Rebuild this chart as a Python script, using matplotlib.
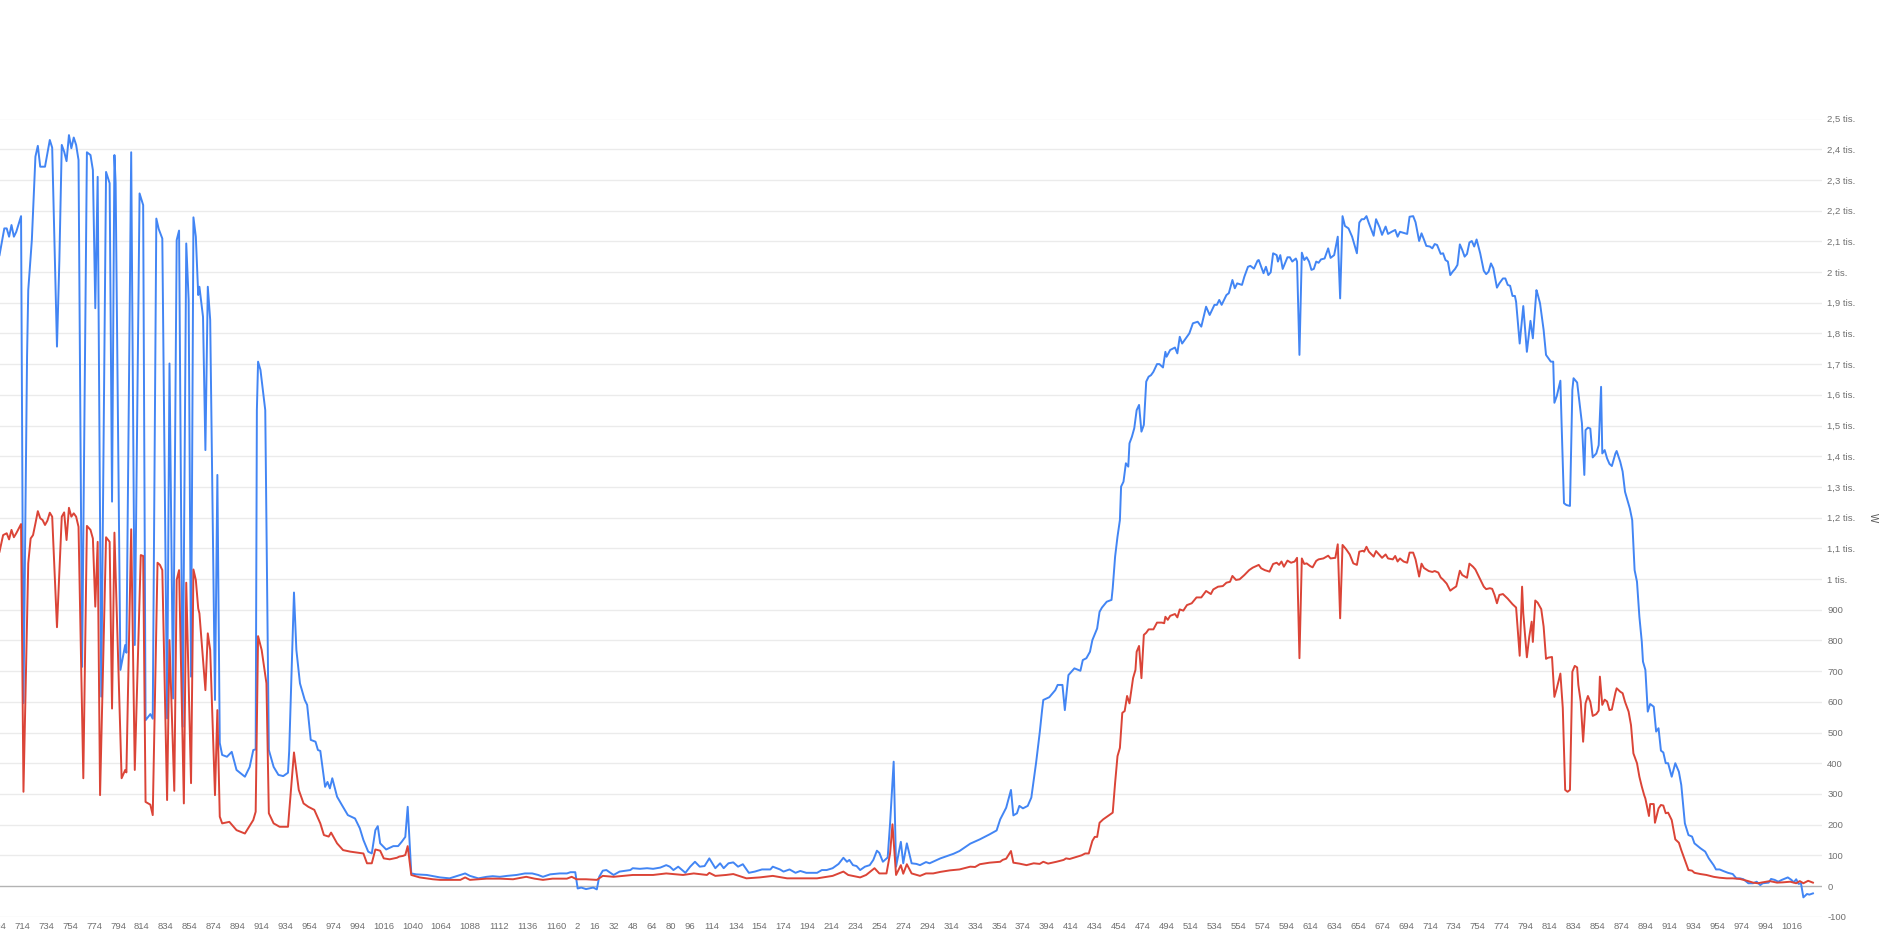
import matplotlib
matplotlib.use('Agg')
import matplotlib.pyplot as plt
from matplotlib.ticker import FixedLocator, FuncFormatter

# (sample, W) vertices; sample counts run on across both days
blue = [
    (0, 2055), (4, 2142), (6, 2142), (8, 2115), (10, 2153), (12, 2115), (14, 2131), (18, 2182), (20, 596),
    (23, 1724), (24, 1941), (27, 2104), (30, 2376), (32, 2411), (34, 2343), (38, 2343), (40, 2386), (42, 2430),
    (44, 2405), (48, 1757), (50, 2039), (52, 2414), (54, 2392), (56, 2361), (58, 2446), (60, 2403), (62, 2438),
    (64, 2414), (66, 2365), (69, 714), (73, 2390), (76, 2381), (78, 2332), (80, 1882), (82, 2310), (85, 617),
    (89, 2326), (92, 2289), (94, 1252), (96, 2381), (97, 2289), (101, 704), (105, 785), (106, 760), (110, 2390),
    (113, 785), (117, 2256), (120, 2218), (122, 540), (126, 560), (128, 545), (131, 2174), (133, 2140),
    (136, 2109), (140, 546), (142, 1702), (145, 611), (148, 2104), (150, 2135), (153, 519), (156, 2093),
    (158, 1909), (160, 682), (162, 2178), (164, 2115), (166, 1925), (167, 1952), (170, 1854), (172, 1420),
    (174, 1952), (176, 1844), (180, 606), (182, 1339), (184, 466), (186, 427), (190, 421), (194, 437),
    (198, 378), (205, 356), (209, 388), (212, 443), (214, 445), (215, 1550), (216, 1708), (218, 1681),
    (222, 1550), (225, 443), (229, 388), (233, 362), (237, 358), (241, 369), (242, 440), (246, 956), (248, 769),
    (251, 660), (255, 606), (257, 590), (260, 476), (264, 470), (266, 443), (268, 440), (272, 323), (274, 339),
    (276, 318), (278, 351), (282, 291), (286, 264), (291, 231), (297, 220), (301, 188), (304, 150), (308, 112),
    (311, 106), (314, 182), (316, 195), (318, 139), (323, 119), (329, 130), (333, 130), (336, 144), (339, 160),
    (341, 258), (344, 41), (348, 38), (357, 36), (368, 28), (376, 25), (389, 41), (393, 33), (400, 25),
    (407, 30), (412, 32), (418, 30), (424, 33), (432, 36), (439, 41), (445, 41), (450, 36), (454, 30), (460, 38),
    (468, 41), (474, 41), (477, 45), (481, 45), (483, -8), (486, -5), (490, -10), (496, -5), (499, -11),
    (501, 30), (504, 50), (507, 52), (513, 36), (518, 47), (527, 52), (529, 58), (535, 56), (541, 58), (546, 56),
    (552, 60), (557, 68), (560, 63), (563, 52), (567, 63), (573, 43), (577, 63), (581, 79), (585, 63), (589, 65),
    (593, 90), (598, 58), (602, 74), (605, 58), (609, 74), (613, 77), (617, 63), (621, 71), (626, 43), (631, 47),
    (637, 54), (644, 54), (646, 63), (652, 54), (655, 47), (660, 54), (665, 43), (669, 49), (674, 43), (683, 43),
    (687, 52), (691, 52), (696, 58), (701, 72), (705, 92), (708, 79), (710, 85), (713, 68), (716, 65), (719, 52),
    (723, 63), (727, 68), (730, 85), (733, 115), (735, 108), (738, 79), (742, 93), (744, 204), (747, 405),
    (749, 63), (753, 144), (755, 74), (758, 139), (762, 74), (766, 72), (769, 68), (774, 78), (777, 74),
    (786, 90), (797, 105), (802, 114), (811, 138), (819, 152), (827, 168), (833, 181), (836, 217), (841, 255),
    (845, 313), (847, 230), (850, 237), (852, 261), (855, 253), (859, 261), (862, 288), (866, 402), (869, 499),
    (871, 573), (872, 606), (877, 615), (882, 638), (884, 655), (888, 655), (890, 573), (893, 687), (898, 709),
    (903, 701), (905, 736), (908, 742), (911, 763), (913, 801), (917, 839), (919, 893), (921, 907), (925, 926),
    (929, 932), (930, 970), (932, 1073), (934, 1138), (936, 1192), (937, 1301), (939, 1317), (941, 1377),
    (943, 1366), (944, 1442), (946, 1463), (948, 1491), (950, 1550), (952, 1567), (954, 1480), (956, 1502),
    (958, 1643), (960, 1659), (962, 1664), (964, 1675), (967, 1700), (969, 1700), (972, 1689), (974, 1740),
    (975, 1724), (978, 1746), (982, 1754), (984, 1735), (986, 1789), (988, 1767), (992, 1789), (994, 1800),
    (997, 1833), (1001, 1838), (1004, 1822), (1008, 1887), (1011, 1860), (1015, 1893), (1017, 1893),
    (1019, 1909), (1021, 1893), (1025, 1925), (1027, 1931), (1030, 1974), (1032, 1947), (1034, 1963),
    (1038, 1958), (1040, 1985), (1043, 2017), (1045, 2020), (1048, 2011), (1051, 2037), (1052, 2039),
    (1056, 1996), (1058, 2017), (1060, 1990), (1062, 1999), (1064, 2061), (1067, 2055), (1068, 2034),
    (1070, 2055), (1072, 2010), (1076, 2048), (1078, 2048), (1080, 2034), (1083, 2044), (1084, 2034),
    (1086, 1730), (1088, 2063), (1090, 2039), (1092, 2048), (1094, 2034), (1096, 2007), (1098, 2010),
    (1100, 2034), (1102, 2030), (1104, 2041), (1107, 2044), (1110, 2077), (1112, 2046), (1115, 2055),
    (1118, 2115), (1120, 1914), (1122, 2182), (1124, 2150), (1127, 2142), (1130, 2115), (1134, 2061),
    (1136, 2161), (1138, 2172), (1140, 2172), (1142, 2182), (1144, 2159), (1148, 2118), (1150, 2172),
    (1153, 2145), (1155, 2121), (1158, 2148), (1160, 2124), (1163, 2131), (1166, 2137), (1168, 2115),
    (1170, 2131), (1176, 2124), (1178, 2180), (1181, 2182), (1183, 2162), (1186, 2101), (1188, 2126),
    (1190, 2106), (1192, 2085), (1195, 2083), (1197, 2077), (1199, 2091), (1201, 2088), (1204, 2059),
    (1206, 2061), (1208, 2039), (1210, 2034), (1212, 1990), (1214, 2001), (1216, 2010), (1218, 2023),
    (1220, 2090), (1222, 2072), (1224, 2050), (1226, 2059), (1228, 2096), (1230, 2101), (1232, 2083),
    (1234, 2106), (1237, 2061), (1240, 2004), (1242, 1993), (1244, 2001), (1246, 2028), (1248, 2012),
    (1251, 1949), (1253, 1963), (1256, 1979), (1258, 1979), (1260, 1958), (1262, 1955), (1264, 1922),
    (1266, 1922), (1267, 1903), (1270, 1767), (1273, 1889), (1276, 1740), (1279, 1841), (1281, 1784),
    (1284, 1941), (1285, 1928), (1287, 1898), (1290, 1811), (1292, 1730), (1294, 1719), (1296, 1708),
    (1298, 1708), (1299, 1574), (1301, 1596), (1304, 1646), (1305, 1507), (1307, 1247), (1309, 1241),
    (1312, 1238), (1314, 1616), (1315, 1654), (1318, 1640), (1320, 1572), (1322, 1507), (1324, 1339),
    (1325, 1485), (1327, 1493), (1329, 1490), (1331, 1396), (1334, 1409), (1336, 1436), (1338, 1626),
    (1339, 1409), (1341, 1420), (1343, 1393), (1345, 1375), (1347, 1368), (1350, 1409), (1351, 1417),
    (1354, 1382), (1356, 1350), (1358, 1284), (1360, 1257), (1362, 1230), (1364, 1192), (1366, 1029),
    (1368, 991), (1370, 877), (1372, 796), (1373, 731), (1375, 704), (1377, 568), (1379, 593), (1382, 584),
    (1384, 503), (1386, 514), (1388, 441), (1390, 435), (1392, 400), (1394, 400), (1397, 356), (1400, 400),
    (1403, 372), (1405, 329), (1408, 204), (1411, 166), (1414, 161), (1416, 139), (1421, 123), (1425, 112),
    (1428, 90), (1432, 68), (1434, 54), (1437, 54), (1440, 49), (1444, 43), (1448, 39), (1451, 25), (1454, 25),
    (1457, 22), (1461, 9), (1465, 9), (1468, 14), (1471, 3), (1473, 9), (1478, 11), (1480, 23), (1483, 20),
    (1486, 14), (1489, 20), (1492, 25), (1494, 28), (1497, 20), (1499, 12), (1501, 22), (1503, 7), (1505, 9),
    (1507, -37), (1510, -26), (1512, -28), (1515, -24),
]

red = [
    (0, 1089), (3, 1143), (6, 1149), (8, 1129), (10, 1160), (12, 1136), (14, 1149), (18, 1179), (20, 307),
    (24, 1051), (26, 1132), (28, 1143), (30, 1181), (32, 1221), (34, 1198), (36, 1192), (38, 1176), (40, 1190),
    (42, 1216), (44, 1203), (48, 843), (52, 1203), (54, 1217), (56, 1127), (58, 1232), (60, 1203), (62, 1214),
    (64, 1203), (66, 1170), (70, 351), (73, 1173), (76, 1160), (78, 1132), (80, 910), (82, 1121), (84, 296),
    (89, 1136), (92, 1121), (94, 578), (96, 1151), (102, 351), (105, 378), (106, 370), (110, 1162), (113, 378),
    (118, 1078), (120, 1075), (122, 274), (126, 265), (128, 231), (132, 1053), (134, 1046), (136, 1029),
    (140, 280), (142, 801), (146, 310), (148, 997), (150, 1029), (154, 269), (156, 988), (160, 335), (162, 1031),
    (164, 997), (166, 904), (167, 888), (172, 638), (174, 823), (176, 769), (180, 296), (182, 573), (184, 226),
    (186, 204), (192, 209), (198, 182), (205, 171), (212, 215), (214, 242), (216, 814), (219, 769), (223, 660),
    (225, 237), (229, 204), (234, 193), (241, 193), (246, 435), (250, 313), (254, 269), (258, 258), (263, 248),
    (268, 204), (271, 166), (275, 161), (277, 174), (282, 139), (287, 117), (293, 112), (304, 106), (307, 74),
    (311, 74), (314, 119), (318, 115), (321, 90), (326, 87), (332, 92), (334, 96), (337, 98), (339, 101),
    (341, 130), (344, 36), (351, 28), (362, 22), (368, 20), (385, 20), (389, 28), (393, 20), (407, 24),
    (418, 24), (429, 22), (440, 30), (447, 24), (454, 20), (462, 24), (474, 24), (478, 30), (482, 22), (490, 22),
    (499, 20), (504, 33), (513, 30), (529, 36), (546, 36), (557, 41), (571, 36), (580, 41), (591, 36), (593, 43),
    (598, 33), (607, 36), (613, 39), (624, 25), (635, 28), (646, 33), (658, 25), (669, 25), (683, 25), (696, 33),
    (705, 47), (709, 36), (719, 28), (724, 36), (731, 58), (735, 41), (741, 41), (744, 106), (746, 201),
    (749, 36), (753, 68), (755, 40), (758, 71), (762, 41), (769, 33), (774, 41), (780, 41), (786, 46), (794, 51),
    (802, 54), (811, 63), (815, 62), (819, 71), (827, 76), (836, 79), (838, 85), (841, 89), (845, 114), (847, 76),
    (852, 73), (858, 68), (864, 74), (869, 72), (872, 79), (876, 73), (883, 79), (889, 85), (891, 90), (894, 88),
    (900, 95), (904, 100), (907, 106), (910, 106), (913, 147), (915, 160), (917, 160), (919, 206), (922, 217),
    (926, 228), (930, 239), (932, 336), (934, 423), (936, 450), (938, 564), (940, 570), (942, 619), (944, 595),
    (947, 677), (949, 704), (950, 763), (952, 782), (954, 677), (956, 818), (958, 825), (960, 836), (964, 836),
    (967, 858), (971, 858), (973, 856), (974, 877), (976, 867), (978, 880), (982, 886), (984, 875), (986, 901),
    (989, 897), (992, 915), (996, 921), (1000, 940), (1004, 940), (1008, 961), (1012, 951), (1014, 966),
    (1018, 975), (1022, 977), (1025, 988), (1028, 991), (1030, 1010), (1033, 997), (1036, 999), (1040, 1013),
    (1044, 1029), (1047, 1037), (1052, 1046), (1054, 1035), (1057, 1029), (1061, 1024), (1064, 1049),
    (1067, 1053), (1069, 1046), (1071, 1057), (1073, 1040), (1076, 1060), (1079, 1053), (1082, 1057),
    (1084, 1069), (1086, 742), (1088, 1067), (1090, 1049), (1092, 1051), (1095, 1042), (1097, 1038),
    (1100, 1059), (1102, 1064), (1106, 1067), (1110, 1076), (1112, 1067), (1116, 1069), (1118, 1113),
    (1120, 872), (1122, 1111), (1125, 1097), (1128, 1080), (1131, 1051), (1134, 1046), (1136, 1089),
    (1139, 1092), (1140, 1089), (1142, 1105), (1144, 1089), (1148, 1073), (1150, 1091), (1153, 1078),
    (1155, 1069), (1158, 1080), (1160, 1067), (1164, 1064), (1166, 1075), (1168, 1057), (1170, 1067),
    (1173, 1057), (1176, 1053), (1178, 1086), (1181, 1086), (1183, 1064), (1186, 1008), (1188, 1050),
    (1190, 1036), (1194, 1026), (1197, 1023), (1199, 1026), (1202, 1021), (1204, 1005), (1206, 998),
    (1209, 985), (1212, 962), (1214, 968), (1217, 976), (1220, 1027), (1222, 1013), (1226, 1004), (1228, 1050),
    (1231, 1040), (1233, 1031), (1236, 1007), (1240, 975), (1242, 967), (1245, 970), (1247, 968), (1249, 948),
    (1251, 921), (1253, 948), (1256, 951), (1260, 936), (1264, 918), (1267, 907), (1270, 750), (1272, 975),
    (1273, 888), (1276, 745), (1278, 812), (1280, 861), (1281, 795), (1283, 930), (1285, 923), (1288, 902),
    (1290, 845), (1292, 740), (1294, 744), (1297, 746), (1299, 616), (1301, 644), (1304, 692), (1306, 580),
    (1308, 313), (1310, 307), (1312, 313), (1314, 698), (1316, 717), (1318, 712), (1319, 655), (1321, 600),
    (1323, 470), (1325, 595), (1327, 619), (1329, 600), (1331, 554), (1334, 560), (1336, 571), (1337, 682),
    (1339, 590), (1341, 607), (1343, 601), (1345, 573), (1347, 575), (1350, 630), (1351, 644), (1354, 633),
    (1356, 628), (1358, 600), (1361, 568), (1363, 524), (1365, 432), (1368, 400), (1370, 356), (1372, 324),
    (1374, 296), (1375, 285), (1378, 228), (1379, 267), (1382, 267), (1383, 206), (1386, 253), (1388, 264),
    (1390, 262), (1392, 237), (1394, 239), (1397, 215), (1400, 152), (1403, 141), (1405, 117), (1408, 85),
    (1411, 52), (1414, 50), (1416, 43), (1421, 39), (1426, 36), (1432, 30), (1437, 27), (1443, 25), (1448, 25),
    (1454, 23), (1460, 17), (1465, 11), (1469, 9), (1473, 12), (1479, 16), (1485, 11), (1490, 12), (1496, 14),
    (1501, 9), (1504, 16), (1507, 9), (1511, 17), (1515, 11),
]

# category labels shown on the x axis (sample number within each day)
day1_labels = [694, 714, 734, 754, 774, 794, 814, 834, 854, 874, 894, 914, 934, 954, 974, 994,
               1016, 1040, 1064, 1088, 1112, 1136, 1160]
day2_labels = [2, 16, 32, 48, 64, 80, 96, 114, 134, 154, 174, 194, 214, 234, 254, 274, 294, 314,
               334, 354, 374, 394, 414, 434, 454, 474, 494, 514, 534, 554, 574, 594, 614, 634, 654,
               674, 694, 714, 734, 754, 774, 794, 814, 834, 854, 874, 894, 914, 934, 954, 974, 994, 1016]
day1_start = 695   # first sample of day 1 in view
day2_offset = 481  # running sample count before day 2

y_ticks = list(range(-100, 2600, 100))

plt.rcParams['font.family'] = ['Liberation Sans', 'DejaVu Sans']

fig = plt.figure(figsize=(18.86, 9.48), dpi=100)
ax = fig.add_axes([0.0, 0.0330, 0.9659, 0.8420])

for y in y_ticks:
    ax.axhline(y, color='#b3b3b3' if y == 0 else '#ebebeb', lw=1.0, zorder=1)

ax.plot([p[0] for p in blue], [p[1] for p in blue], color='#4285f4', lw=1.4,
        solid_joinstyle='round', zorder=3)
ax.plot([p[0] for p in red], [p[1] for p in red], color='#db4437', lw=1.4,
        solid_joinstyle='round', zorder=4)

ax.set_xlim(0.4, 1522.3)
ax.set_ylim(-100, 2500)

lab_size = 6.8
lab_color = '#707070'
x_pad = 3.5

xt = [v - day1_start for v in day1_labels] + [v + day2_offset for v in day2_labels]
ax.xaxis.set_major_locator(FixedLocator(xt))
ax.set_xticklabels([str(v) for v in day1_labels + day2_labels])

# the first label sits half outside the view, as in the cut-off original
ax.annotate(str(day1_labels[0]), xy=(day1_labels[0] - day1_start, 0),
            xycoords=('data', 'axes fraction'), xytext=(0, -x_pad), textcoords='offset points',
            ha='center', va='top', fontsize=lab_size, color=lab_color, annotation_clip=False)


def fmt(v, pos):
    if abs(v) >= 1000:
        return ('%g' % (v / 1000)).replace('.', ',') + ' tis.'
    return '%d' % v


ax.yaxis.tick_right()
ax.yaxis.set_major_locator(FixedLocator(y_ticks))
ax.yaxis.set_major_formatter(FuncFormatter(fmt))
ax.tick_params(axis='both', length=0, labelsize=lab_size, labelcolor=lab_color)
ax.tick_params(axis='x', pad=x_pad)
ax.tick_params(axis='y', pad=4)
for s in ax.spines.values():
    s.set_visible(False)

fig.text(1873 / 1886, 0.5 * (0.0330 + 0.8750), 'W', rotation=-90, ha='center', va='center',
         fontsize=7, color='#555555')

fig.savefig('out.png', dpi=100, facecolor='white')
